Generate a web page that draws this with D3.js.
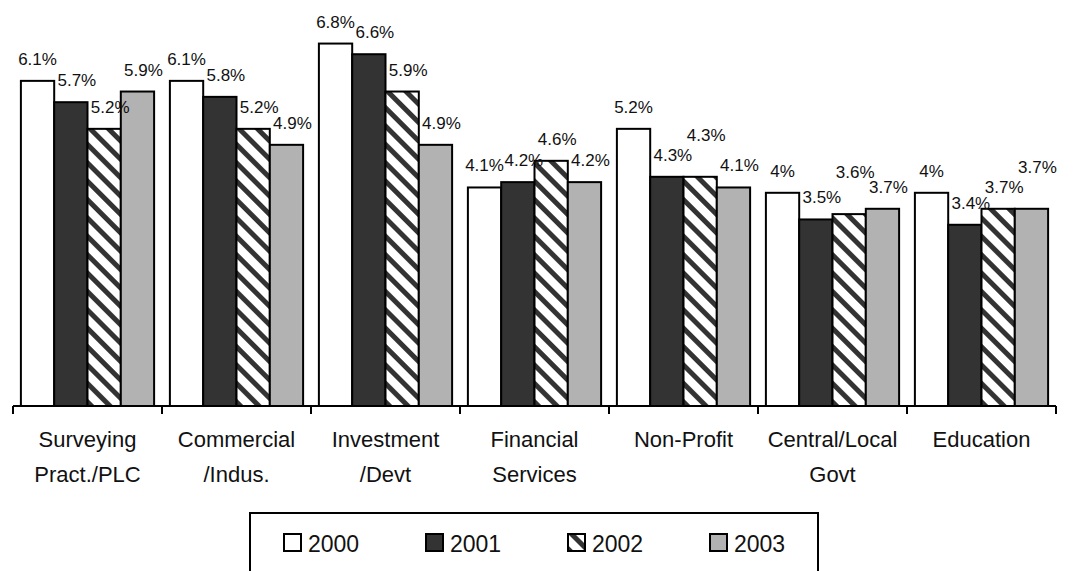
<!DOCTYPE html>
<html>
<head>
<meta charset="utf-8">
<script src="https://cdn.jsdelivr.net/npm/d3@7"></script>
<style>
  body { margin: 0; background: #fff; }
  svg text { font-family: "Liberation Sans", Arial, sans-serif; fill: #111; }
</style>
</head>
<body>
<div class="chart-container"></div>
<script>
// Chart data
const categories = [
  ["Surveying", "Pract./PLC"],
  ["Commercial", "/Indus."],
  ["Investment", "/Devt"],
  ["Financial", "Services"],
  ["Non-Profit"],
  ["Central/Local", "Govt"],
  ["Education"]
];
const years = ["2000", "2001", "2002", "2003"];
const values2000 = [6.1, 6.1, 6.8, 4.1, 5.2, 4.0, 4.0];
const values2001 = [5.7, 5.8, 6.6, 4.2, 4.3, 3.5, 3.4];
const values2002 = [5.2, 5.2, 5.9, 4.6, 4.3, 3.6, 3.7];
const values2003 = [5.9, 4.9, 4.9, 4.2, 4.1, 3.7, 3.7];

function drawChart() {
  const width = 1074;
  const height = 571;
  const baseY = 406;

  const series = [values2000, values2001, values2002, values2003];
  const fills = ["#ffffff", "#333333", "url(#hatch)", "#b2b2b2"];

  const svg = d3
    .select(".chart-container")
    .append("svg")
    .attr("width", width)
    .attr("height", height);

  // Pattern for the 2002 bars (wide downward diagonal)
  const pattern = svg.append("defs")
    .append("pattern")
    .attr("id", "hatch")
    .attr("patternUnits", "userSpaceOnUse")
    .attr("width", 13)
    .attr("height", 13)
    .attr("patternTransform", "rotate(-45)");
  pattern.append("rect")
    .attr("width", 13)
    .attr("height", 13)
    .attr("fill", "#ffffff");
  pattern.append("rect")
    .attr("width", 5)
    .attr("height", 13)
    .attr("fill", "#333333");

  // Scales
  const x0 = d3.scaleBand()
    .domain(d3.range(categories.length))
    .range([13, 1056]);

  const x1 = d3.scaleBand()
    .domain(d3.range(years.length))
    .range([0, x0.bandwidth()])
    .paddingOuter(0.237);

  const y = d3.scaleLinear()
    .domain([0, 7])
    .range([baseY, baseY - 7 * 53.3]);

  // Bars, one group per category
  const groups = svg.selectAll(".group")
    .data(categories)
    .enter()
    .append("g")
    .attr("class", "group")
    .attr("transform", (d, i) => `translate(${x0(i)},0)`);

  groups.selectAll("rect")
    .data((d, i) => series.map((s, k) => ({ k: k, v: s[i] })))
    .enter()
    .append("rect")
    .attr("x", d => x1(d.k))
    .attr("y", d => y(d.v))
    .attr("width", x1.bandwidth())
    .attr("height", d => baseY - y(d.v))
    .attr("fill", d => fills[d.k])
    .attr("stroke", "#000")
    .attr("stroke-width", 2);

  // Value labels above bars, lifted when they hit the previous one
  groups.each(function (c, i) {
    const g = d3.select(this);
    let prev = null;
    series.forEach((s, k) => {
      const cx = x1(k) + x1.bandwidth() / 2 + (k > 0 ? 6 : 0);
      let by = y(s[i]) - 16;
      const t = g.append("text")
        .attr("text-anchor", "middle")
        .style("font-size", "17px")
        .text(s[i] + "%");
      const w = t.node().getComputedTextLength();
      if (prev && cx - w / 2 < prev.x2 && cx + w / 2 > prev.x1 &&
          Math.abs(by - prev.y) < 13) {
        by = by - 20;
      }
      t.attr("x", cx).attr("y", by);
      prev = { x1: cx - w / 2, x2: cx + w / 2, y: by };
    });
  });

  // X axis line and tick marks at the group boundaries
  svg.append("line")
    .attr("x1", x0.range()[0])
    .attr("x2", x0.range()[1])
    .attr("y1", baseY)
    .attr("y2", baseY)
    .attr("stroke", "#000")
    .attr("stroke-width", 2);

  const tickXs = d3.range(categories.length).map(i => x0(i)).concat([x0.range()[1]]);
  svg.selectAll(".tick")
    .data(tickXs)
    .enter()
    .append("line")
    .attr("class", "tick")
    .attr("x1", d => d)
    .attr("x2", d => d)
    .attr("y1", baseY)
    .attr("y2", baseY + 8)
    .attr("stroke", "#000")
    .attr("stroke-width", 2);

  // Category labels (two lines)
  const catText = svg.selectAll(".cat")
    .data(categories)
    .enter()
    .append("text")
    .attr("class", "cat")
    .attr("text-anchor", "middle")
    .style("font-size", "22px");
  catText.selectAll("tspan")
    .data((d, i) => d.map(line => ({ line: line, i: i })))
    .enter()
    .append("tspan")
    .attr("x", d => x0(d.i) + x0.bandwidth() / 2)
    .attr("y", (d, j) => 447 + j * 35)
    .text(d => d.line);

  // Legend
  const legend = svg.append("g");
  legend.append("rect")
    .attr("x", 250)
    .attr("y", 513)
    .attr("width", 568)
    .attr("height", 80)
    .attr("fill", "none")
    .attr("stroke", "#000")
    .attr("stroke-width", 2);

  const items = legend.selectAll(".item")
    .data(years)
    .enter()
    .append("g")
    .attr("class", "item")
    .attr("transform", (d, i) => `translate(${284 + i * 142},534)`);
  items.append("rect")
    .attr("width", 17)
    .attr("height", 17)
    .attr("fill", (d, i) => fills[i])
    .attr("stroke", "#000")
    .attr("stroke-width", 2);
  items.append("text")
    .attr("x", 24)
    .attr("y", 18)
    .style("font-size", "23px")
    .text(d => d);
}

drawChart();
</script>
</body>
</html>
